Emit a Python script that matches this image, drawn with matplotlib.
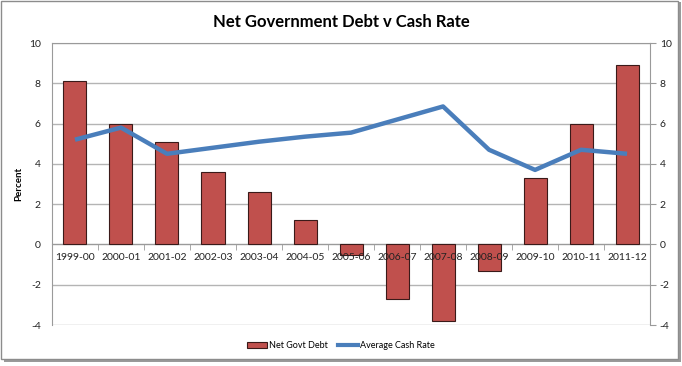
import matplotlib.pyplot as plt
import numpy as np
from matplotlib.patches import Rectangle
from matplotlib.lines import Line2D

# datos
anios = ["1999-00", "2000-01", "2001-02", "2002-03", "2003-04", "2004-05", "2005-06",
         "2006-07", "2007-08", "2008-09", "2009-10", "2010-11", "2011-12"]
deuda_neta = [8.1, 6.0, 5.1, 3.6, 2.6, 1.2, -0.5, -2.7, -3.8, -1.3, 3.3, 6.0, 8.9]
tasa_efectivo = [5.2, 5.8, 4.5, 4.8, 5.1, 5.35, 5.55, 6.2, 6.85, 4.7, 3.7, 4.7, 4.5]
ticks_y = [-4, -2, 0, 2, 4, 6, 8, 10]

plt.rcParams['font.family'] = ['Lato', 'DejaVu Sans']

fig = plt.figure(figsize=(6.82, 3.66), dpi=100)

# marco exterior con sombra
fig.patches.append(Rectangle((0.006, 0.012), 0.992, 0.982, transform=fig.transFigure,
                             facecolor="#9a9a9a", edgecolor="none", zorder=-3))
fig.patches.append(Rectangle((0.002, 0.018), 0.992, 0.978, transform=fig.transFigure,
                             facecolor="white", edgecolor="#8c8c8c", lw=1.0, zorder=-2))

ax = fig.add_axes([0.0762, 0.112, 0.877, 0.7705])
x = np.arange(len(anios))

ax.bar(x, deuda_neta, width=0.5, color="#C0504D", edgecolor="#3a1a19", lw=0.8, zorder=3,
       label="Net Govt Debt")
ax.plot(x, tasa_efectivo, color="#4A7EBB", lw=3.2, zorder=4, solid_capstyle="butt",
        label="Average Cash Rate")

ax.set_xlim(-0.5, len(anios) - 0.5)
ax.set_ylim(-4, 10)
ax.set_yticks(ticks_y)
ax.set_yticklabels([str(t) for t in ticks_y], fontsize=7.5, color="#222222")
ax.tick_params(axis="y", length=0, pad=8)
for t in ticks_y:
    ax.axhline(t, color="#b4b4b4", lw=1.0, zorder=1)

for lado in ["left", "right", "top"]:
    ax.spines[lado].set_color("#9a9a9a")
ax.spines["bottom"].set_position(("data", 0))
ax.spines["bottom"].set_color("#9a9a9a")
ax.spines["bottom"].set_zorder(2)

ax.set_xticks(x)
ax.set_xticklabels(anios, fontsize=7.5, color="#222222")
ax.set_xticks(np.arange(0.5, len(anios) - 0.5), minor=True)
ax.tick_params(axis="x", which="major", length=0, pad=6)
ax.tick_params(axis="x", which="minor", length=4, color="#9a9a9a", direction="out")
# las etiquetas del eje x van encima de las barras
ax.xaxis.set_zorder(5)

ax2 = ax.twinx()
ax2.set_ylim(-4, 10)
ax2.set_yticks(ticks_y)
ax2.set_yticklabels([str(t) for t in ticks_y], fontsize=7.5, color="#222222")
ax2.tick_params(axis="y", length=4, color="#9a9a9a", pad=3)
for lado in ["left", "right", "top", "bottom"]:
    ax2.spines[lado].set_visible(False)

ax.set_ylabel("Percent", fontsize=7, fontweight="bold", labelpad=4)
fig.text(0.5, 0.94, "Net Government Debt v Cash Rate", ha="center", va="center",
         fontsize=12, fontweight="bold")

manejadores = [Rectangle((0, 0), 1, 1, facecolor="#C0504D", edgecolor="#3a1a19", lw=0.8),
               Line2D([0], [0], color="#4A7EBB", lw=3)]
fig.legend(manejadores, ["Net Govt Debt", "Average Cash Rate"], loc="center",
           bbox_to_anchor=(0.5, 0.055), ncol=2, frameon=False, fontsize=6.5,
           handlelength=2.2, handleheight=0.6, handletextpad=0.2, columnspacing=1.2)

plt.savefig("out.png", dpi=100)
plt.close()
